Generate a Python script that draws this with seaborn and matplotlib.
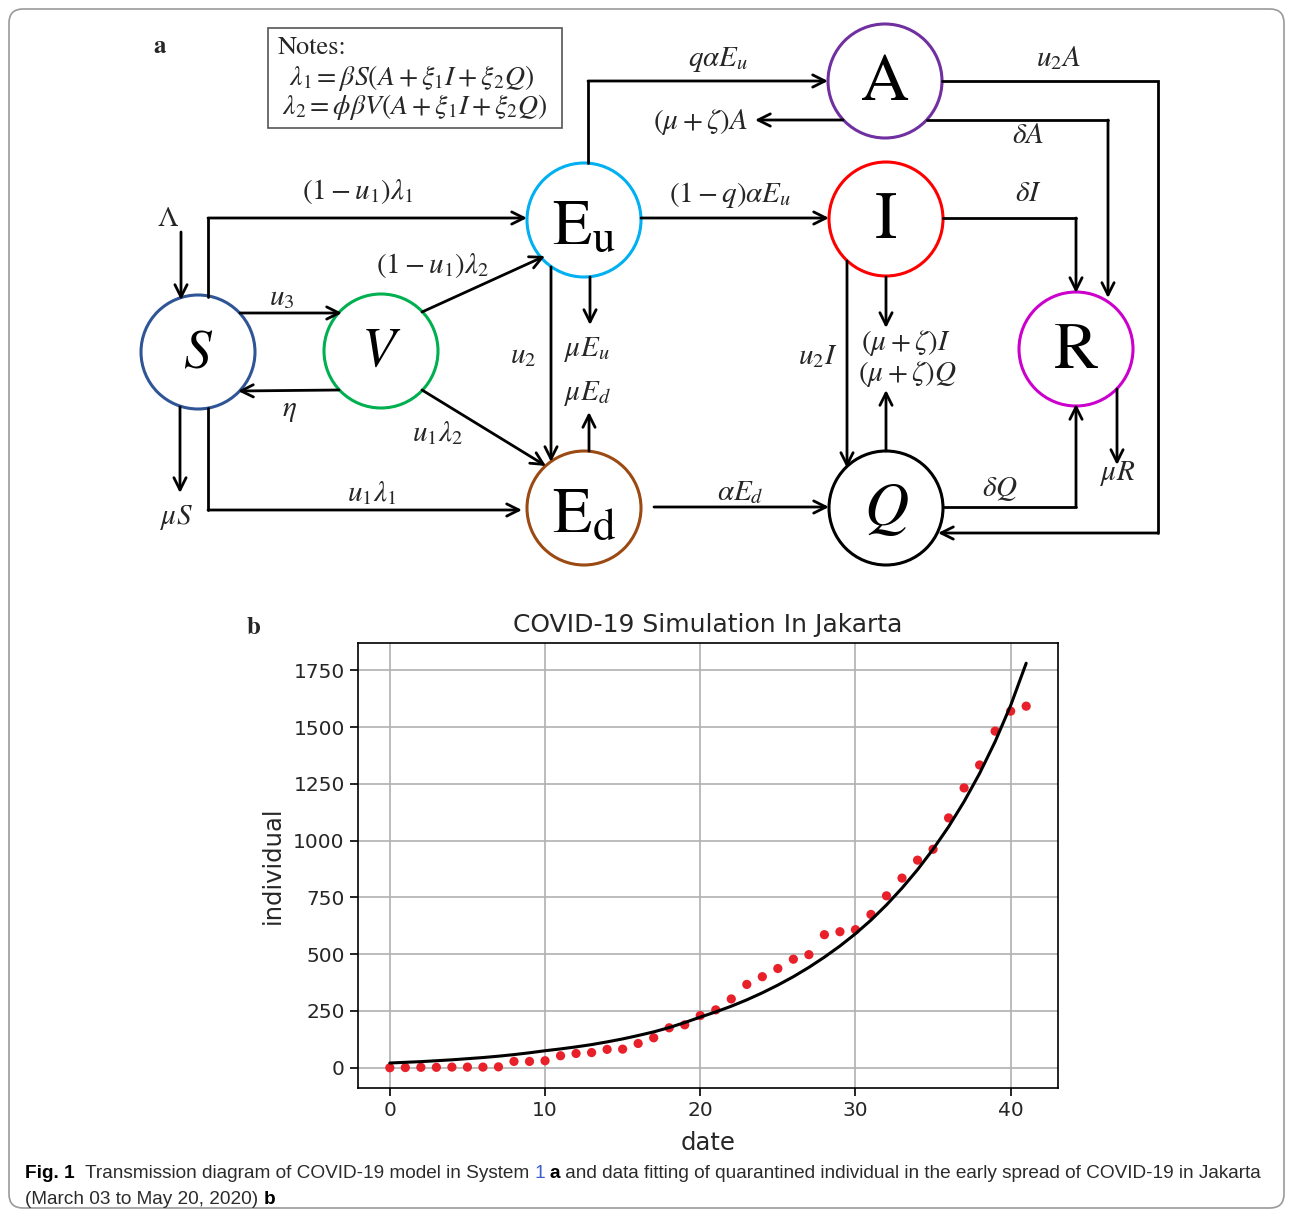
import numpy as np
import pandas as pd
import matplotlib
matplotlib.use('Agg')
import matplotlib.pyplot as plt
from matplotlib.patches import Circle, Rectangle, FancyBboxPatch
import seaborn as sns

# data fitting of quarantined individuals (days since March 03)
days = list(range(42))
quarantined = [0, 1, 2, 2, 3, 3, 3, 4, 28, 28,
               31, 53, 63, 67, 81, 82, 107, 132, 176, 189,
               230, 255, 303, 367, 401, 437, 478, 498, 586, 599,
               608, 675, 757, 835, 914, 962, 1100, 1232, 1333, 1482,
               1570, 1592]
fitted = [21, 24, 27, 31, 35, 40, 45, 51, 58, 66,
          75, 83, 92, 102, 114, 127, 142, 158, 177, 199,
          223, 246, 271, 299, 330, 364, 401, 442, 487, 536,
          590, 650, 717, 791, 872, 962, 1061, 1172, 1296, 1436,
          1595, 1781]
x_ticks = [0, 10, 20, 30, 40]
y_ticks = [0, 250, 500, 750, 1000, 1250, 1500, 1750]

sns.set_style('ticks')
plt.rcParams['mathtext.fontset'] = 'stix'
plt.rcParams['font.family'] = ['DejaVu Sans']

W, H = 1293, 1217
fig = plt.figure(figsize=(W / 100, H / 100), dpi=100)

# ---- panel a: transmission diagram, drawn in pixel coordinates ----
ax_d = fig.add_axes([0, 0, 1, 1])
ax_d.set_xlim(0, W)
ax_d.set_ylim(H, 0)
ax_d.axis('off')

ax_d.add_patch(FancyBboxPatch((9, 9), 1275, 1199, boxstyle='round,pad=0,rounding_size=14',
                              fc='none', ec='#9a9a9a', lw=1.2))

nodes = {
    'S': (198, 352, r'$S$', '#2F5597', 40),
    'V': (381, 351, r'$V$', '#00B050', 40),
    'Eu': (584, 220, r'$\mathrm{E}_{\mathrm{u}}$', '#00B0F0', 46),
    'Ed': (584, 508, r'$\mathrm{E}_{\mathrm{d}}$', '#9A4A12', 46),
    'A': (885, 81, r'$\mathrm{A}$', '#7030A0', 48),
    'I': (886, 219, r'$\mathrm{I}$', '#FF0000', 48),
    'Q': (886, 508, r'$Q$', '#000000', 44),
    'R': (1076, 349, r'$\mathrm{R}$', '#CC00CC', 48),
}
for key, (cx, cy, lab, col, fs) in nodes.items():
    ax_d.add_patch(Circle((cx, cy), 57, fc='white', ec=col, lw=2.2, zorder=1))
    dy = 6 if key in ('Eu', 'Ed') else 0
    ax_d.text(cx, cy + dy, lab, ha='center', va='center', fontsize=fs, color='black', zorder=3)


def arrow_path(pts):
    xs, ys = zip(*pts)
    if len(pts) > 2:
        ax_d.plot(xs[:-1], ys[:-1], color='black', lw=2, solid_joinstyle='miter', zorder=2)
    ax_d.annotate('', xy=pts[-1], xytext=pts[-2],
                  arrowprops=dict(arrowstyle='->', color='black', lw=2,
                                  shrinkA=0, shrinkB=0, mutation_scale=22), zorder=2)


paths = [
    [(181, 232), (181, 300)],
    [(208, 297), (208, 218), (527, 218)],
    [(240, 313), (342, 313)],
    [(339, 390), (238, 391)],
    [(422, 312), (545, 256)],
    [(422, 390), (546, 466)],
    [(180, 407), (180, 493)],
    [(208, 408), (208, 510), (522, 510)],
    [(551, 267), (551, 462)],
    [(590, 277), (590, 325)],
    [(589, 451), (589, 412)],
    [(588, 163), (588, 81), (828, 81)],
    [(843, 120), (755, 120)],
    [(927, 120), (1108, 120), (1108, 298)],
    [(942, 81), (1158, 81), (1158, 533), (938, 533)],
    [(641, 218), (829, 218)],
    [(943, 218), (1076, 218), (1076, 293)],
    [(886, 277), (886, 328)],
    [(886, 451), (886, 390)],
    [(847, 261), (847, 468)],
    [(654, 507), (829, 507)],
    [(943, 507), (1076, 507), (1076, 404)],
    [(1117, 389), (1117, 465)],
]
for p in paths:
    arrow_path(p)

labels = [
    (168, 218, r'$\Lambda$'),
    (358, 192, r'$(1-u_1)\lambda_1$'),
    (282, 297, r'$u_3$'),
    (289, 410, r'$\eta$'),
    (433, 265, r'$(1-u_1)\lambda_2$'),
    (438, 433, r'$u_1\lambda_2$'),
    (177, 517, r'$\mu S$'),
    (372, 493, r'$u_1\lambda_1$'),
    (523, 355, r'$u_2$'),
    (587, 350, r'$\mu E_u$'),
    (587, 393, r'$\mu E_d$'),
    (718, 60, r'$q\alpha E_u$'),
    (700, 122, r'$(\mu+\zeta)A$'),
    (1028, 135, r'$\delta A$'),
    (1058, 58, r'$u_2A$'),
    (730, 195, r'$(1-q)\alpha E_u$'),
    (1028, 193, r'$\delta I$'),
    (906, 343, r'$(\mu+\zeta)I$'),
    (907, 374, r'$(\mu+\zeta)Q$'),
    (818, 356, r'$u_2I$'),
    (740, 492, r'$\alpha E_d$'),
    (1000, 489, r'$\delta Q$'),
    (1118, 474, r'$\mu R$'),
]
for x, y, t in labels:
    ax_d.text(x, y, t, ha='center', va='center', fontsize=21)

ax_d.add_patch(Rectangle((268, 28), 294, 100, fc='none', ec='#555555', lw=1.2))
ax_d.text(278, 48, 'Notes:', ha='left', va='center', fontsize=19, family='STIXGeneral')
ax_d.text(412, 78, r'$\lambda_1=\beta S(A+\xi_1I+\xi_2Q)$', ha='center', va='center', fontsize=20)
ax_d.text(415, 107, r'$\lambda_2=\phi\beta V(A+\xi_1I+\xi_2Q)$', ha='center', va='center', fontsize=20)

ax_d.text(160, 47, 'a', ha='center', va='center', fontsize=18, fontweight='bold', family='STIXGeneral')
ax_d.text(254, 628, 'b', ha='center', va='center', fontsize=18, fontweight='bold', family='STIXGeneral')

# ---- panel b: chart ----
ax = fig.add_axes([358 / W, 1 - 1088 / H, 700 / W, 445 / H])
sns.scatterplot(x=days, y=quarantined, color='#E8202A', s=44, edgecolor='none', ax=ax, zorder=3)
sns.lineplot(x=days, y=fitted, color='black', lw=2.2, ax=ax, zorder=4)
ax.set_xticks(x_ticks)
ax.set_yticks(y_ticks)
ax.margins(0.05)
ax.grid(True, color='#b0b0b0', lw=1.2)
ax.set_axisbelow(True)
for s in ax.spines.values():
    s.set_color('black')
    s.set_linewidth(1.2)
ax.tick_params(direction='out', length=6, width=1.2, labelsize=14.5, color='black')
ax.set_title('COVID-19 Simulation In Jakarta', fontsize=18, pad=8)
ax.set_xlabel('date', fontsize=17.5, labelpad=8)
ax.set_ylabel('individual', fontsize=17.5, labelpad=6)

# ---- caption ----
renderer = fig.canvas.get_renderer()
line1 = [('Fig. 1', 'bold', 'black'),
         ('  Transmission diagram of COVID-19 model in System ', 'normal', '#2b2b2b'),
         ('1', 'normal', '#3a5fcd'),
         (' ', 'normal', 'black'),
         ('a', 'bold', 'black'),
         (' and data fitting of quarantined individual in the early spread of COVID-19 in Jakarta',
          'normal', '#2b2b2b')]
line2 = [('(March 03 to May 20, 2020) ', 'normal', '#2b2b2b'),
         ('b', 'bold', 'black')]


def caption_line(pieces, x0, y, fs):
    x = x0
    for txt, weight, col in pieces:
        t = fig.text(x / W, 1 - y / H, txt, fontsize=fs, family='Liberation Sans', fontweight=weight,
                     color=col, ha='left', va='baseline')
        x += t.get_window_extent(renderer).width
    return x


# measure line 1 at a trial size, then scale it to the caption width
probe = fig.text(0, 0, ''.join(p[0] for p in line1), fontsize=14, family='Liberation Sans')
wid = probe.get_window_extent(renderer).width
probe.remove()
cap_fs = 14 * 1250 / wid
caption_line(line1, 25, 1178, cap_fs)
caption_line(line2, 25, 1204, cap_fs)

fig.savefig('out.png', dpi=100)
